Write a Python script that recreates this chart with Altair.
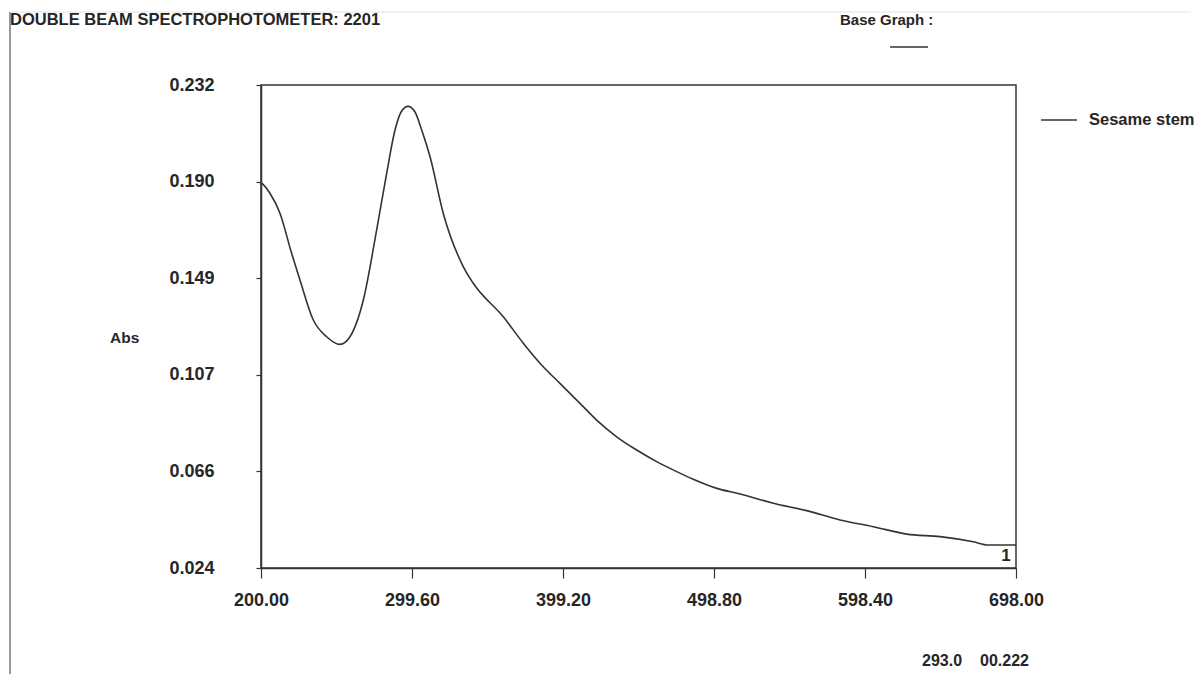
import altair as alt
import pandas as pd

# Spectrum readings (wavelength nm, absorbance)
wavelength = [200, 200.9, 205.9, 212.5, 220.2, 225.7, 234.5, 243.3, 252.1, 258.7,
              267.5, 276.3, 282.9, 288.4, 292.5, 297.0, 301.5, 306.0, 311.5, 320.2,
              333.4, 340.0, 359.8, 373.0, 384.0, 397.2, 410.4, 421.4, 434.6,
              447.8, 461.0, 474.2, 485.1, 500.1, 516.0, 537.9, 559.9, 581.9, 603.9,
              625.9, 647.9, 669.8, 679.7, 698.0]
absorbance = [0.190, 0.1895, 0.1854, 0.1768, 0.1595, 0.1480, 0.1308, 0.1236, 0.1203, 0.1236,
              0.1394, 0.1696, 0.1940, 0.2126, 0.2205, 0.2228, 0.2205, 0.2126, 0.2011, 0.1768,
              0.1538, 0.1466, 0.1322, 0.1208, 0.1122, 0.1035, 0.0949, 0.0877, 0.0805,
              0.0748, 0.0698, 0.0655, 0.0622, 0.0584, 0.0559, 0.0519, 0.0487, 0.0447, 0.0418,
              0.0386, 0.0375, 0.0353, 0.0339, 0.0339]

x_ticks = [200.0, 299.6, 399.2, 498.8, 598.4, 698.0]
y_ticks = [0.024, 0.0656, 0.1072, 0.1488, 0.1904, 0.232]

title_text = "DOUBLE BEAM SPECTROPHOTOMETER: 2201"
base_graph_text = "Base Graph :"
legend_text = "Sesame stem"
y_title = "Abs"
curve_label = "1"
cursor_wl = "293.0"
cursor_abs = "00.222"

FONT = "Liberation Sans, Arial, sans-serif"
INK = "#262626"

df = pd.DataFrame({"wl": wavelength, "abs": absorbance})

W, H = 755, 483

line = alt.Chart(df).mark_line(color="#333333", strokeWidth=1.6, interpolate="monotone").encode(
    x=alt.X("wl:Q", scale=alt.Scale(domain=[200, 698], nice=False, zero=False),
            axis=alt.Axis(values=x_ticks, format=".2f", title=None, grid=False,
                          tickSize=10, labelPadding=13, labelFontSize=18,
                          labelFont=FONT, labelFontWeight="bold", labelColor=INK,
                          domainColor="#333", domainWidth=1.5, tickColor="#333",
                          tickWidth=1.2, labelFlush=False)),
    y=alt.Y("abs:Q", scale=alt.Scale(domain=[0.024, 0.232], nice=False, zero=False),
            axis=alt.Axis(values=y_ticks, format=".3f", title=None, grid=False,
                          tickSize=5, labelPadding=42, labelFontSize=18,
                          labelFont=FONT, labelFontWeight="bold", labelColor=INK,
                          domainColor="#333", domainWidth=1.5, tickColor="#333",
                          tickWidth=1.2)),
)

def txt(text, x, y, size, align="left", baseline="middle"):
    return alt.Chart(df.head(1)).mark_text(
        text=text, font=FONT, fontSize=size, fontWeight="bold", color=INK,
        align=align, baseline=baseline,
    ).encode(x=alt.value(x), y=alt.value(y))

def rule(x1, x2, y1, y2, color, width):
    return alt.Chart(df.head(1)).mark_rule(color=color, strokeWidth=width).encode(
        x=alt.value(x1), x2=alt.value(x2), y=alt.value(y1), y2=alt.value(y2))

layers = [
    rule(-251, -251, -73, 590, "#9a9a9a", 2),
    rule(-251, 930, -73, -73, "#e2e2e2", 1),
    line,
    txt(title_text, -251, -65, 16.5),
    txt(base_graph_text, 579, -65, 15),
    rule(629, 667, -38, -38, "#333", 1.5),
    rule(780, 816, 35, 35, "#333", 1.5),
    txt(legend_text, 828, 35, 16.5),
    txt(y_title, -151, 253, 15.5),
    txt(curve_label, 745, 471, 17, align="center"),
    txt(cursor_wl, 661, 576, 16),
    txt(cursor_abs, 719, 576, 16),
]

chart = alt.layer(*layers).properties(
    width=W, height=H,
    autosize=alt.AutoSizeParams(type="none"),
    padding={"left": 253, "top": 77, "right": 178, "bottom": 106},
    background="white",
).configure_view(stroke="#333", strokeWidth=1.5)

chart.save("out.html", embed_options={"renderer": "svg", "actions": False})
